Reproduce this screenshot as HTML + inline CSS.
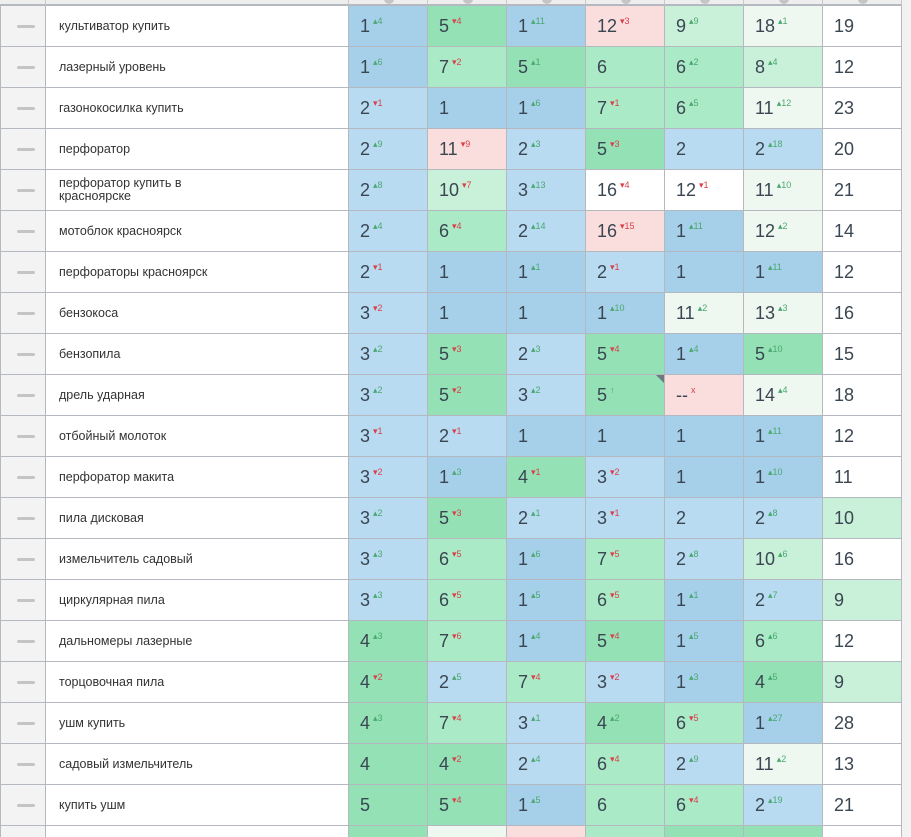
<!DOCTYPE html>
<html><head><meta charset="utf-8">
<style>
html,body{margin:0;padding:0;background:#f2f2f2;width:911px;height:837px;overflow:hidden;font-family:"Liberation Sans","DejaVu Sans",sans-serif;}
#wrap{position:absolute;left:0;top:0;width:911px;height:837px;overflow:hidden;}
.cell{position:absolute;box-sizing:border-box;border-right:1px solid #b4b8bf;border-bottom:1px solid #b4b8bf;}
.num{font-size:18px;color:#3a4652;padding-left:11px;line-height:40px;white-space:nowrap;}
.sup{font-size:9px;position:relative;top:-8px;margin-left:3px;}
.up{color:#4aa870;} .dn{color:#d9404a;}
.kw{font-size:12.5px;color:#333;padding-left:13px;display:flex;align-items:center;line-height:13px;}
.dash{background:#f3f3f3;}
.dash span{position:absolute;left:16px;top:19px;width:18px;height:3px;background:#c4c4c4;border-radius:2px;}
.hdr{position:absolute;top:0;height:6px;background:#eeeeee;border-right:1px solid #c9c9c9;border-bottom:2px solid #b4b8bf;box-sizing:border-box;}
.ico{position:absolute;top:-6px;width:10px;height:10px;border-radius:50%;background:#c5c5c5;}
</style></head>
<body>
<div id="wrap"></div>
<script>
const keywords=["культиватор купить","лазерный уровень","газонокосилка купить","перфоратор","перфоратор купить в красноярске","мотоблок красноярск","перфораторы красноярск","бензокоса","бензопила","дрель ударная","отбойный молоток","перфоратор макита","пила дисковая","измельчитель садовый","циркулярная пила","дальномеры лазерные","торцовочная пила","ушм купить","садовый измельчитель","купить ушм",""];
const cells=[
"1u4 5d4 1u11 12d3:P 9u9 18u1:L 19",
"1u6 7d2 5u1 6 6u2 8u4 12",
"2d1 1 1u6 7d1 6u5 11u12 23",
"2u9 11d9:P 2u3 5d3 2 2u18 20",
"2u8 10d7 3u13 16d4 12d1:W 11u10 21",
"2u4 6d4 2u14 16d15:P 1u11 12u2 14",
"2d1 1 1u1 2d1 1 1u11 12",
"3d2 1 1 1u10 11u2 13u3 16",
"3u2 5d3 2u3 5d4 1u4 5u10 15",
"3u2 5d2 3u2 5a --x:P 14u4 18",
"3d1 2d1 1 1 1 1u11 12",
"3d2 1u3 4d1 3d2 1 1u10 11",
"3u2 5d3 2u1 3d1 2 2u8 10:G",
"3u3 6d5 1u6 7d5 2u8 10u6 16",
"3u3 6d5 1u5 6d5 1u1 2u7 9:G",
"4u3 7d6 1u4 5d4 1u5 6u6 12",
"4d2 2u5 7d4 3d2 1u3 4u5 9:G",
"4u3 7d4 3u1 4u2 6d5 1u27 28",
"4 4d2 2u4 6d4 2u9 11u2 13",
"5 5d4 1u5 6 6d4 2u19 21",
":Y :L :P :H :Y :Y :W"
];
const colX=[0,46,349,428,507,586,665,744,823,902];
const top0=6,rowH=41;
const pal={B:"#a6d0ea",b:"#b8dbf2",Y:"#93e1b5",H:"#abeac6",G:"#c9f1d9",L:"#eef8f1",W:"#ffffff",P:"#fadede"};
function colorFor(v,ci){
  if(ci===6) return pal.W;
  const n=parseInt(v,10);
  if(isNaN(n)) return pal.W;
  if(n<=1) return pal.B; if(n<=3) return pal.b; if(n<=5) return pal.Y;
  if(n<=7) return pal.H; if(n<=10) return pal.G; if(n<=15) return pal.L; return pal.W;
}
const wrap=document.getElementById('wrap');
for(let c=0;c<9;c++){
  const h=document.createElement('div');h.className='hdr';
  
  
  h.style.left=colX[c]+'px';h.style.width=(colX[c+1]-colX[c])+'px';
  if(c>=2){const i=document.createElement('div');i.className='ico';i.style.left=((colX[c+1]-colX[c])/2-5)+'px';h.appendChild(i);}
  wrap.appendChild(h);
}
keywords.forEach((kw,r)=>{
  const y=top0+r*rowH;
  const d=document.createElement('div');d.className='cell dash';
  
  
  d.style.cssText+=`left:0;top:${y}px;width:46px;height:${rowH}px;border-left:1px solid #b4b8bf;`;
  d.innerHTML='<span></span>';wrap.appendChild(d);
  const k=document.createElement('div');k.className='cell kw';
  
  
  k.style.cssText+=`left:46px;top:${y}px;width:303px;height:${rowH}px;background:#fff;`;
  k.innerHTML='<div style="width:150px">'+kw+'</div>';wrap.appendChild(k);
  cells[r].split(' ').forEach((tok,ci)=>{
    let [val,ov]=tok.split(':');
    const m=val.match(/^(\d+|--)([udax]?)(\d*)$/);
    let num='',dir='',dv='';
    if(m){num=m[1];dir=m[2];dv=m[3];}
    let bg=ov?pal[ov]:colorFor(num,ci);
    const c=document.createElement('div');c.className='cell num';
    
    
    c.style.cssText+=`left:${colX[ci+2]}px;top:${y}px;width:${colX[ci+3]-colX[ci+2]}px;height:${rowH}px;background:${bg};`;
    let html=num;
    if(dir==='u') html+=`<span class="sup up">▴${dv}</span>`;
    if(dir==='d') html+=`<span class="sup dn">▾${dv}</span>`;
    if(dir==='a') html+=`<span class="sup up">↑</span><span style="position:absolute;right:0;top:0;width:0;height:0;border-top:8px solid #6a7a80;border-left:8px solid transparent"></span>`;
    if(dir==='x') html+=`<span class="sup dn">x</span>`;
    c.innerHTML=html;wrap.appendChild(c);
  });
});
</script>
</body></html>
